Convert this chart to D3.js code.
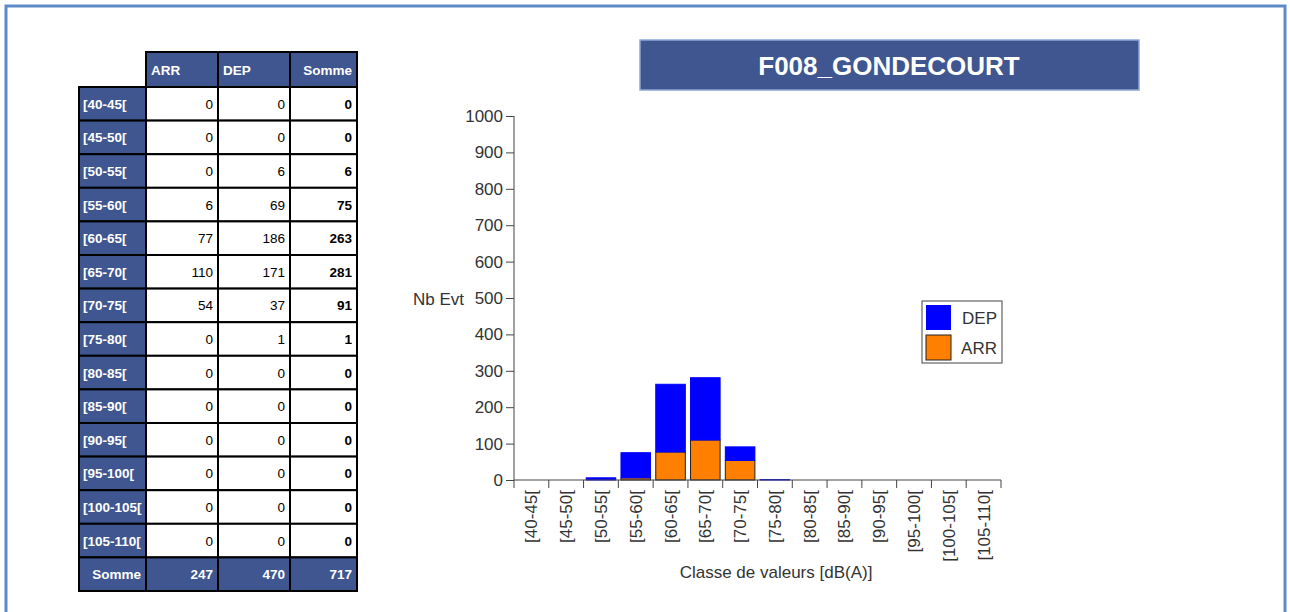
<!DOCTYPE html>
<html>
<head>
<meta charset="utf-8">
<script src="https://cdn.jsdelivr.net/npm/d3@7"></script>
<style>
  body { margin: 0; background: #fff; }
  svg { display: block; font-family: Arial, "Liberation Sans", sans-serif; }
</style>
</head>
<body>
<svg id="chart" width="1290" height="612"></svg>
<script>
'use strict'
var classes = ['[40-45[', '[45-50[', '[50-55[', '[55-60[', '[60-65[', '[65-70[', '[70-75[',
  '[75-80[', '[80-85[', '[85-90[', '[90-95[', '[95-100[', '[100-105[', '[105-110[']
var arr = [0, 0, 0, 6, 77, 110, 54, 0, 0, 0, 0, 0, 0, 0]
var dep = [0, 0, 6, 69, 186, 171, 37, 1, 0, 0, 0, 0, 0, 0]
var yTicks = [0, 100, 200, 300, 400, 500, 600, 700, 800, 900, 1000]
var title = 'F008_GONDECOURT'

var navy = '#3f5690'
var svg = d3.select('#chart')

// outer frame
svg.append('rect')
  .attr('x', 6).attr('y', 6).attr('width', 1279).attr('height', 620)
  .attr('fill', 'none').attr('stroke', '#5e8bc7').attr('stroke-width', 3)

// ---- table ----
var sums = arr.map(function (a, i) { return a + dep[i] })
var total = function (v) { return d3.sum(v) }
var colX = [79, 146, 218, 290, 357]
var headTop = 52
var rowTop = 87
var rowH = 33.6
var tbl = svg.append('g')

// shadow
tbl.append('rect')
  .attr('x', colX[0] + 1).attr('y', rowTop + 1).attr('width', colX[4] - colX[0])
  .attr('height', rowH * 15).attr('fill', '#999')

var cell = function (x0, x1, y0, h, fill) {
  tbl.append('rect')
    .attr('x', x0).attr('y', y0).attr('width', x1 - x0).attr('height', h)
    .attr('fill', fill).attr('stroke', '#000').attr('stroke-width', 2)
}
var label = function (x, y, txt, anchor, color, bold) {
  tbl.append('text')
    .attr('x', x).attr('y', y).attr('text-anchor', anchor)
    .attr('fill', color).attr('font-size', 13.5)
    .attr('font-weight', bold ? 'bold' : 'normal')
    .text(txt)
}

// header
cell(colX[1], colX[2], headTop, rowTop - headTop, navy)
cell(colX[2], colX[3], headTop, rowTop - headTop, navy)
cell(colX[3], colX[4], headTop, rowTop - headTop, navy)
label(colX[1] + 5, headTop + 23, 'ARR', 'start', '#fff', true)
label(colX[2] + 5, headTop + 23, 'DEP', 'start', '#fff', true)
label(colX[4] - 5, headTop + 23, 'Somme', 'end', '#fff', true)

classes.forEach(function (c, i) {
  var y = rowTop + i * rowH
  cell(colX[0], colX[1], y, rowH, navy)
  cell(colX[1], colX[2], y, rowH, '#fff')
  cell(colX[2], colX[3], y, rowH, '#fff')
  cell(colX[3], colX[4], y, rowH, '#fff')
  var ty = y + rowH / 2 + 5
  label(colX[0] + 4, ty, c, 'start', '#fff', true)
  label(colX[2] - 5, ty, arr[i], 'end', '#000', false)
  label(colX[3] - 5, ty, dep[i], 'end', '#000', false)
  label(colX[4] - 5, ty, sums[i], 'end', '#000', true)
})
var sy = rowTop + classes.length * rowH
cell(colX[0], colX[1], sy, rowH, navy)
cell(colX[1], colX[2], sy, rowH, navy)
cell(colX[2], colX[3], sy, rowH, navy)
cell(colX[3], colX[4], sy, rowH, navy)
label(colX[1] - 5, sy + rowH / 2 + 5, 'Somme', 'end', '#fff', true)
label(colX[2] - 5, sy + rowH / 2 + 5, total(arr), 'end', '#fff', true)
label(colX[3] - 5, sy + rowH / 2 + 5, total(dep), 'end', '#fff', true)
label(colX[4] - 5, sy + rowH / 2 + 5, total(sums), 'end', '#fff', true)

// ---- title ----
svg.append('rect')
  .attr('x', 640).attr('y', 40).attr('width', 499).attr('height', 50)
  .attr('fill', navy).attr('stroke', '#8ea6d8').attr('stroke-width', 1.5)
svg.append('text')
  .attr('x', 889).attr('y', 75).attr('text-anchor', 'middle')
  .attr('fill', '#fff').attr('font-size', 26).attr('font-weight', 'bold')
  .text(title)

// ---- chart ----
var x = d3.scaleBand().domain(classes).range([514, 1001]).paddingInner(0.15).paddingOuter(0.075)
var y = d3.scaleLinear().domain([0, 1000]).range([480, 116])
var textCol = '#333'
var fs = 17

var data = classes.map(function (c, i) { return { c: c, arr: arr[i], dep: dep[i] } })
var stack = d3.stack().keys(['arr', 'dep'])(data)
var colors = { arr: '#ff7f00', dep: '#0000ff' }

stack.forEach(function (layer) {
  svg.append('g').selectAll('rect')
    .data(layer.filter(function (d) { return d[1] > d[0] }))
    .enter().append('rect')
    .attr('x', function (d) { return x(d.data.c) })
    .attr('width', x.bandwidth())
    .attr('y', function (d) { return y(d[1]) })
    .attr('height', function (d) { return y(d[0]) - y(d[1]) })
    .attr('fill', colors[layer.key])
    .attr('stroke', layer.key === 'arr' ? '#222' : colors.dep)
    .attr('stroke-width', 1)
})

// y axis
var yAxis = svg.append('g').attr('transform', 'translate(514,0)')
  .call(d3.axisLeft(y).tickValues(yTicks).tickSize(8).tickPadding(3).tickFormat(d3.format('d')))
yAxis.select('.domain').attr('stroke', '#444').attr('d', 'M0,116V480')
yAxis.selectAll('.tick line').attr('stroke', '#444')
yAxis.selectAll('.tick text').attr('fill', textCol).attr('font-size', fs)
  .attr('font-family', 'Arial, sans-serif')

// x axis with ticks at band edges
var xAxisG = svg.append('g')
xAxisG.append('line').attr('x1', 514).attr('x2', 1001).attr('y1', 480).attr('y2', 480)
  .attr('stroke', '#444')
var edges = d3.range(classes.length + 1).map(function (i) { return 514 + i * (487 / classes.length) })
xAxisG.selectAll('line.tk').data(edges).enter().append('line')
  .attr('class', 'tk')
  .attr('x1', function (d) { return d }).attr('x2', function (d) { return d })
  .attr('y1', 480).attr('y2', 488).attr('stroke', '#444')
xAxisG.selectAll('text').data(classes).enter().append('text')
  .attr('transform', function (d) { return 'translate(' + (x(d) + x.bandwidth() / 2 + 6) + ',490) rotate(-90)' })
  .attr('text-anchor', 'end')
  .attr('fill', textCol).attr('font-size', fs)
  .text(function (d) { return d })

svg.append('text').attr('x', 776).attr('y', 578).attr('text-anchor', 'middle')
  .attr('fill', textCol).attr('font-size', fs).text('Classe de valeurs [dB(A)]')
svg.append('text').attr('x', 413).attr('y', 305).attr('text-anchor', 'start')
  .attr('fill', textCol).attr('font-size', fs).text('Nb Evt')

// legend
var lg = svg.append('g')
lg.append('rect').attr('x', 922).attr('y', 301).attr('width', 80).attr('height', 62)
  .attr('fill', '#fff').attr('stroke', '#444')
var legendItems = [['DEP', colors.dep], ['ARR', colors.arr]]
legendItems.forEach(function (it, i) {
  lg.append('rect').attr('x', 926).attr('y', 305 + i * 30).attr('width', 25).attr('height', 25)
    .attr('fill', it[1]).attr('stroke', i === 1 ? '#222' : 'none')
  lg.append('text').attr('x', 997).attr('y', 324 + i * 30).attr('text-anchor', 'end')
    .attr('fill', textCol).attr('font-size', fs).text(it[0])
})
</script>
</body>
</html>
